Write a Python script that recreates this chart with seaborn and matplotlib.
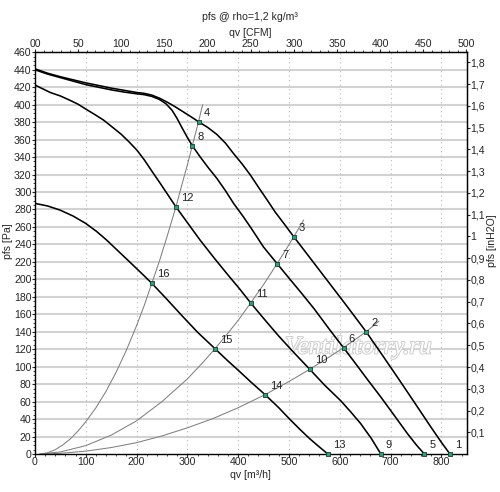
import matplotlib
matplotlib.use("Agg")
import matplotlib.pyplot as plt
import matplotlib.patheffects as pe
from matplotlib.ticker import MultipleLocator, FixedLocator, FuncFormatter
import seaborn as sns
import pandas as pd

# fan curves (qv m3/h, pfs Pa)
fan1_q = [0, 25, 50, 75, 100, 125, 150, 175, 200, 215, 230, 245, 260, 275, 290, 305, 322, 340, 358, 375,
          391, 408, 424, 440, 457, 473, 490, 509.5, 535, 560, 585, 610, 632, 652, 683, 713, 746, 779, 800, 817]
fan1_p = [441, 436, 432, 428.5, 425, 422, 419, 416.5, 414, 413, 411, 407.5, 403, 398, 392.5, 387, 380.5, 374, 366, 356,
          344, 332, 319.5, 305.5, 291, 277, 264, 248.8, 229.5, 210.5, 191.5, 172.5, 155.5, 140, 114, 88.5, 60, 31.3, 13.5, 0]
fan2_q = [0, 25, 50, 75, 100, 125, 150, 175, 200, 215, 230, 245, 258, 270, 279.5, 290, 300, 309.7, 325, 341,
          358, 375, 391, 408, 424, 450, 476.7, 500, 525, 550, 580, 607.5, 630, 655, 680.5, 707, 733, 750, 766.6]
fan2_p = [440, 435, 431, 427, 423, 420, 417, 414.5, 412.5, 411.5, 409.5, 406, 401, 393.5, 384.5, 373, 362.5, 353, 340.4, 328,
          315.7, 301.5, 287, 273.5, 260, 237, 218, 201.5, 184, 166, 142.5, 121.7, 104.5, 85, 65.6, 44.5, 23.6, 11, 0]
fan3_q = [0, 30, 50, 69, 85, 100, 117, 134.7, 152, 170, 185, 200.6, 215, 230, 246.5, 262, 277.5, 300, 325, 352,
          380, 403, 424.7, 452, 480, 510, 541, 570, 602, 622, 641, 662, 681]
fan3_p = [422.5, 414, 410, 405, 400.5, 395, 389, 382.5, 374.5, 366, 357.5, 348, 337, 324, 310, 296.5, 283, 265, 245, 225,
          205, 189, 173, 154, 135, 116, 97, 79, 61, 48, 35, 18, 0]
fan4_q = [0, 25, 49, 75, 100, 121, 141, 160, 180, 207, 230, 260, 290, 320, 354.4, 380, 400, 425, 453, 480,
          503, 522, 540, 558, 576.5]
fan4_p = [287, 284, 279.4, 272.5, 264, 255, 245, 234.5, 223.5, 208.5, 195.5, 177, 158, 139.5, 120.6, 106.5, 96, 82.5, 68, 53,
          39, 28, 18, 9, 0]

# system curves
sysA_q = [10, 25, 40, 55, 70, 85, 100, 120, 140, 160, 180, 200, 215, 230, 245, 260, 277.5, 290, 300, 309.7, 322, 330]
sysA_p = [0, 1.5, 5, 10.5, 17.5, 26.5, 37, 53, 72, 94, 119, 147, 170, 195.5, 221, 249, 283, 310, 331, 353, 380.5, 400]
sysB_q = [10, 50, 100, 150, 200, 250, 300, 330, 354.4, 380, 400, 424.7, 450, 476.7, 495, 509.5, 529]
sysB_p = [0, 2.4, 9.6, 21.6, 38, 60, 86, 104.5, 120.6, 138.5, 153, 173, 194, 218, 235, 248.8, 268]
sysC_q = [10, 50, 100, 150, 200, 250, 300, 350, 400, 453, 500, 541, 575, 607.5, 630, 652, 677]
sysC_p = [0, 0.8, 3.3, 7.4, 13, 20.7, 30, 40.5, 53, 68, 83, 97, 109.5, 121.7, 131, 140, 152]

# numbered operating points
pt_id = ["1", "2", "3", "4", "5", "6", "7", "8", "9", "10", "11", "12", "13", "14", "15", "16"]
pt_q = [817, 652, 509.5, 322, 766.6, 607.5, 476.7, 309.7, 681, 541, 424.7, 277.5, 576.5, 453, 354.4, 230]
pt_p = [0, 140, 248.8, 380.5, 0, 121.7, 218, 353, 0, 97, 173, 283, 0, 68, 120.6, 195.5]

cfm_ticks = list(range(0, 501, 50))
cfm_labels = ["00"] + [str(v) for v in cfm_ticks[1:]]
inh2o_ticks = [0.1, 0.2, 0.3, 0.4, 0.5, 0.6, 0.7, 0.8, 0.9, 1.0, 1.1, 1.2, 1.3, 1.4, 1.5, 1.6, 1.7, 1.8]

M3H_PER_CFM = 1.699
PA_PER_INH2O = 249.09
FS = 7.6

sns.set_style("white")
plt.rcParams["font.family"] = ["Liberation Sans", "DejaVu Sans"]
plt.rcParams["font.size"] = FS

fig = plt.figure(figsize=(5, 4.92), dpi=100)
ax = fig.add_axes([0.07, 0.0772, 0.8634, 0.8165])

ax.set_xlim(0, 850)
ax.set_ylim(0, 460)

# grid
for y in range(20, 460, 20):
    ax.axhline(y, color="#d2d2d2", lw=1.5, zorder=0)
for x in range(100, 850, 100):
    ax.axvline(x, color="#b8b8b8", lw=0.8, ls=(0, (1, 3)), zorder=0)

ax.text(637, 122, "Ventilatorry.ru", fontsize=18, style="italic", family="Liberation Serif",
        color="white", ha="center", va="center", zorder=1,
        path_effects=[pe.withStroke(linewidth=1.4, foreground="#cdcdcd")])

for q, p in [(sysA_q, sysA_p), (sysB_q, sysB_p), (sysC_q, sysC_p)]:
    sns.lineplot(x=q, y=p, ax=ax, color="#808080", lw=0.75, sort=False, estimator=None, zorder=2)
for q, p in [(fan1_q, fan1_p), (fan2_q, fan2_p), (fan3_q, fan3_p), (fan4_q, fan4_p)]:
    sns.lineplot(x=q, y=p, ax=ax, color="black", lw=1.15, sort=False, estimator=None, zorder=3)

pts = pd.DataFrame({"q": pt_q, "p": pt_p, "id": pt_id})
sns.scatterplot(data=pts, x="q", y="p", ax=ax, marker="s", s=11, color="#2e9e78",
                edgecolor="#1b3d31", linewidth=0.6, zorder=5, clip_on=False)
for _, r in pts.iterrows():
    ax.annotate(r["id"], (r["q"], r["p"]), xytext=(3.6, 6.5), textcoords="offset points",
                ha="left", va="center", fontsize=8, color="#222222", zorder=6)

for s in ax.spines.values():
    s.set_color("black")
    s.set_linewidth(1)

ax.xaxis.set_major_locator(MultipleLocator(100))
ax.xaxis.set_minor_locator(MultipleLocator(20))
ax.yaxis.set_major_locator(MultipleLocator(20))
ax.yaxis.set_minor_locator(MultipleLocator(5))
ax.tick_params(which="major", direction="out", length=2, width=0.8, pad=0.5, labelsize=FS,
               bottom=True, left=True)
ax.tick_params(which="minor", direction="out", length=1.2, width=0.6, bottom=True, left=True)
ax.set_xlabel("qv [m³/h]", fontsize=FS, labelpad=1.5)
ax.set_ylabel("")

top = ax.secondary_xaxis("top", functions=(lambda x: x / M3H_PER_CFM, lambda c: c * M3H_PER_CFM))
top.xaxis.set_major_locator(FixedLocator(cfm_ticks))
top.set_xticklabels(cfm_labels)
top.xaxis.set_minor_locator(MultipleLocator(10))
top.tick_params(which="major", direction="out", length=2, width=0.8, pad=0.3, labelsize=FS)
top.tick_params(which="minor", direction="out", length=1.2, width=0.6)

right = ax.secondary_yaxis("right", functions=(lambda p: p / PA_PER_INH2O, lambda i: i * PA_PER_INH2O))
right.yaxis.set_major_locator(FixedLocator(inh2o_ticks))
right.yaxis.set_major_formatter(FuncFormatter(lambda v, _: f"{v:g}".replace(".", ",")))
right.tick_params(which="major", direction="out", length=2, width=0.8, pad=0.5, labelsize=FS)

fig.text(0.5, 0.965, "pfs @ rho=1,2 kg/m³", ha="center", va="center", fontsize=FS)
fig.text(0.5, 0.933, "qv [CFM]", ha="center", va="center", fontsize=FS)
fig.text(0.016, 0.51, "pfs [Pa]", ha="center", va="center", rotation=90, fontsize=FS)
fig.text(0.984, 0.51, "pfs [inH2O]", ha="center", va="center", rotation=90, fontsize=FS)

fig.savefig("out.png", dpi=100)
